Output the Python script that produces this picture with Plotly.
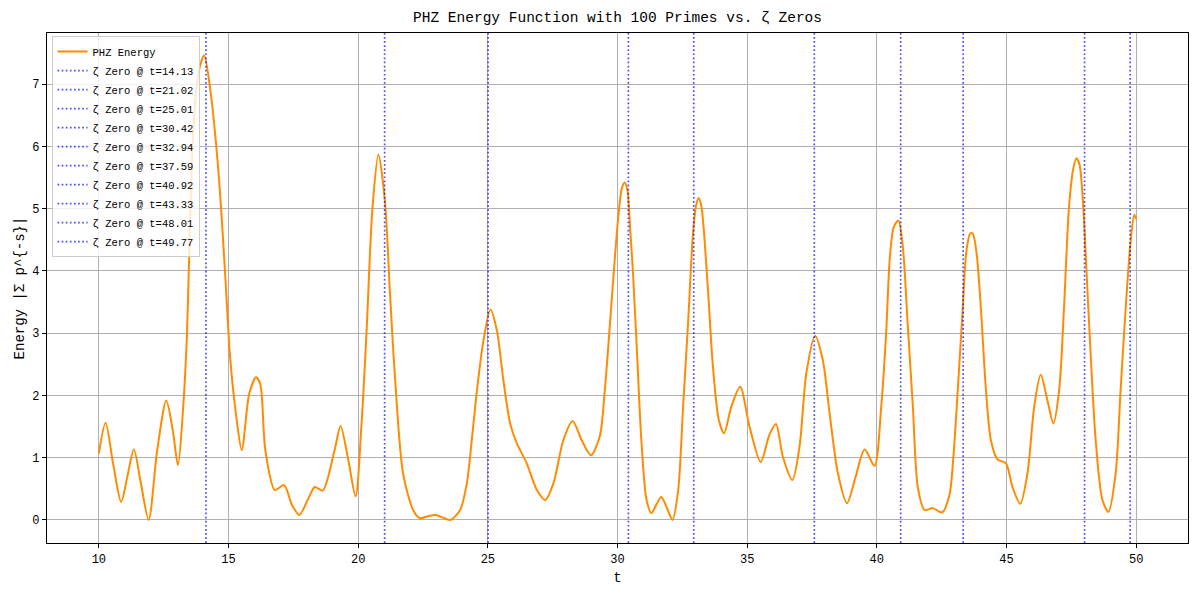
import plotly.graph_objects as go

# values
t_vals = [10.0, 10.26, 10.55, 10.86, 11.1, 11.35, 11.62, 11.92, 12.25, 12.6,
          12.85, 13.05, 13.25, 13.4, 13.53, 13.66, 13.85, 14.06, 14.3, 14.62,
          14.87, 15.06, 15.3, 15.51, 15.8, 16.06, 16.22, 16.42, 16.79, 17.14,
          17.45, 17.73, 18.05, 18.33, 18.63, 19.09, 19.32, 19.62, 19.9, 20.13,
          20.32, 20.55, 20.78, 21.03, 21.22, 21.41, 21.73, 22.12, 22.37, 22.7,
          22.97, 23.2, 23.55, 23.93, 24.19, 24.38, 24.58, 24.83, 25.1, 25.35,
          25.6, 25.86, 26.12, 26.5, 26.89, 27.21, 27.53, 27.91, 28.27, 28.62,
          28.98, 29.32, 29.51, 29.7, 29.9, 30.06, 30.18, 30.28, 30.38, 30.5,
          30.6, 30.76, 30.92, 31.12, 31.31, 31.5, 31.69, 31.9, 32.12, 32.34,
          32.53, 32.72, 32.91, 33.03, 33.13, 33.23, 33.32, 33.49, 33.68, 33.91,
          34.11, 34.39, 34.73, 35.09, 35.52, 35.86, 36.11, 36.38, 36.74, 37.02,
          37.28, 37.62, 37.92, 38.18, 38.5, 38.85, 39.18, 39.53, 39.91, 40.17,
          40.36, 40.5, 40.65, 40.83, 41.0, 41.19, 41.39, 41.58, 41.84, 42.16,
          42.52, 42.8, 42.95, 43.12, 43.3, 43.45, 43.6, 43.7, 43.85, 44.01,
          44.21, 44.4, 44.66, 44.98, 45.23, 45.53, 45.81, 46.07, 46.32, 46.58,
          46.81, 47.03, 47.22, 47.41, 47.58, 47.7, 47.82, 47.95, 48.06, 48.25,
          48.44, 48.7, 48.93, 49.21, 49.4, 49.6, 49.79, 49.93, 50.0]
energy = [1.07, 1.56, 0.9, 0.29, 0.7, 1.13, 0.59, 0.0, 1.12, 1.92,
          1.44, 0.88, 1.8, 3.0, 5.0, 6.4, 7.2, 7.46, 6.9, 5.55,
          3.95, 2.62, 1.66, 1.12, 2.03, 2.29, 2.19, 1.12, 0.48, 0.56,
          0.24, 0.08, 0.32, 0.53, 0.47, 1.12, 1.51, 0.96, 0.38, 1.55,
          3.0, 5.0, 5.87, 5.13, 3.69, 2.35, 0.75, 0.16, 0.03, 0.06,
          0.08, 0.05, 0.0, 0.16, 0.59, 1.28, 2.08, 2.88, 3.38, 3.04,
          2.24, 1.55, 1.23, 0.91, 0.48, 0.32, 0.59, 1.28, 1.59, 1.28,
          1.04, 1.35, 2.08, 3.1, 4.22, 5.0, 5.35, 5.42, 5.3, 4.6,
          3.95, 2.62, 1.28, 0.32, 0.11, 0.25, 0.37, 0.2, 0.0, 0.48,
          1.82, 3.15, 4.59, 5.05, 5.17, 5.05, 4.7, 3.69, 2.46, 1.6,
          1.39, 1.82, 2.14, 1.5, 0.93, 1.37, 1.54, 1.01, 0.64, 1.18,
          2.35, 2.96, 2.56, 1.71, 0.75, 0.27, 0.69, 1.13, 0.87, 1.82,
          3.0, 4.2, 4.7, 4.81, 4.4, 3.15, 1.82, 0.53, 0.16, 0.19,
          0.12, 0.4, 1.0, 2.08, 3.3, 4.3, 4.6, 4.6, 4.27, 3.42,
          2.08, 1.28, 0.97, 0.91, 0.53, 0.26, 0.75, 1.82, 2.33, 1.92,
          1.55, 2.08, 3.42, 5.02, 5.65, 5.81, 5.7, 5.1, 4.22, 2.62,
          1.28, 0.32, 0.13, 0.75, 2.08, 3.42, 4.49, 4.9, 4.83]
zeta_zeros = [14.13, 21.02, 25.01, 30.42, 32.94, 37.59, 40.92, 43.33, 48.01, 49.77]

FONT = "Liberation Mono"

fig = go.Figure()
fig.add_trace(go.Scatter(x=t_vals, y=energy, mode="lines", name="PHZ Energy",
                         line=dict(color="#ff8c00", width=2, shape="spline", smoothing=0.8)))

for z in zeta_zeros:
    fig.add_vline(x=z, line=dict(color="rgba(0,0,255,0.7)", width=1.7, dash="1.7px,2.4px"),
                  showlegend=True, name=f"ζ Zero @ t={z:.2f}", layer="above")

# page body adds an 8px offset, so the figure is a bit smaller than the window
fig.update_layout(
    width=1192, height=587,
    margin=dict(l=39, r=12, t=25, b=52),
    plot_bgcolor="white", paper_bgcolor="white",
    font=dict(family=FONT, color="black", size=12),
    title=dict(text="PHZ Energy Function with 100 Primes vs. ζ Zeros",
               x=0.5, xref="paper", xanchor="center", y=0.985, yanchor="middle",
               font=dict(family=FONT, size=14.5)),
    showlegend=True,
    legend=dict(x=0.004, y=0.994, xanchor="left", yanchor="top",
                bgcolor="rgba(255,255,255,0.8)", bordercolor="#cccccc", borderwidth=1,
                font=dict(family=FONT, size=10.5), tracegroupgap=0, itemwidth=30),
)
fig.update_xaxes(range=[8.0, 52.0], tickvals=[10, 15, 20, 25, 30, 35, 40, 45, 50],
                 title=dict(text="t", standoff=6), showgrid=True, gridcolor="#b0b0b0", gridwidth=0.8,
                 showline=True, linecolor="black", linewidth=1.2, mirror=True, automargin=False,
                 ticks="outside", ticklen=4, tickcolor="black", zeroline=False)
fig.update_yaxes(range=[-0.37, 7.82], tickvals=[0, 1, 2, 3, 4, 5, 6, 7],
                 title=dict(text="Energy |Σ p^{-s}|", standoff=4), showgrid=True, gridcolor="#b0b0b0", gridwidth=0.8,
                 showline=True, linecolor="black", linewidth=1.2, mirror=True, automargin=False,
                 ticks="outside", ticklen=4, tickcolor="black", zeroline=False)

fig.write_html("out.html")
